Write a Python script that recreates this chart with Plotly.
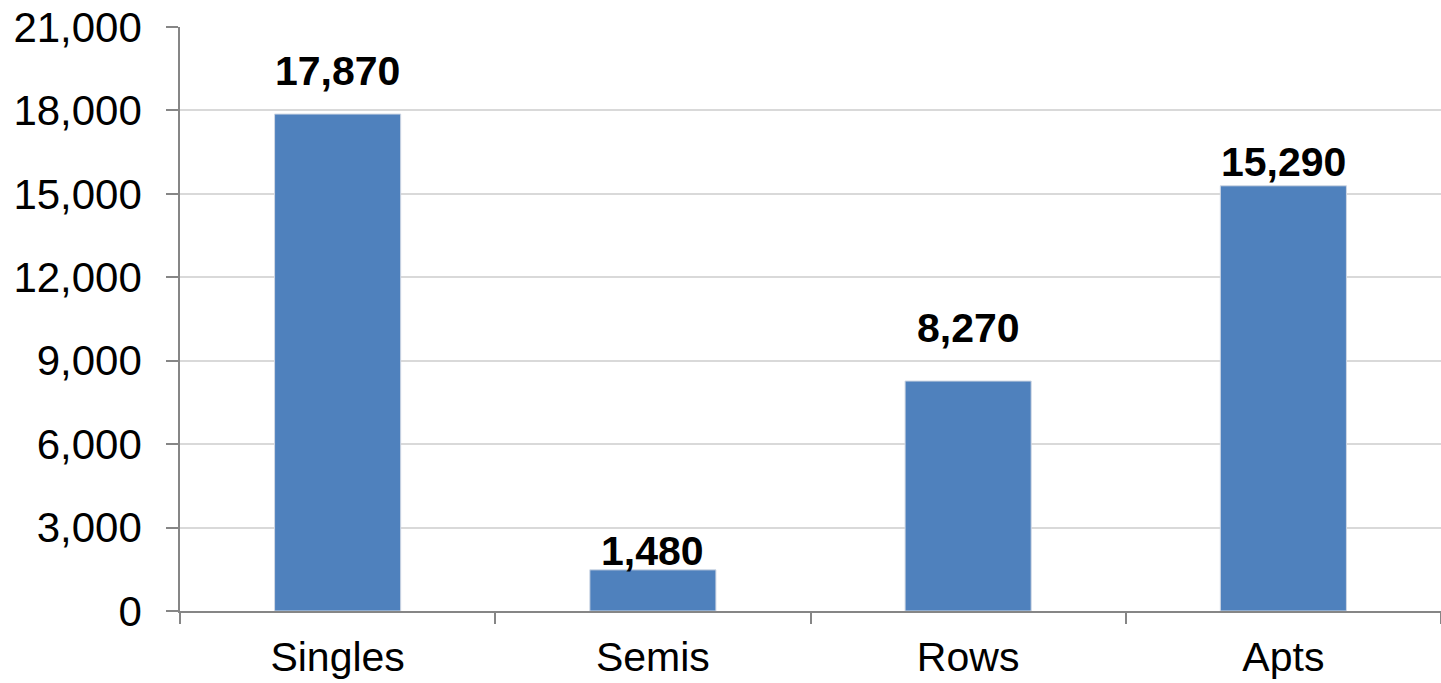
import plotly.graph_objects as go

categories = ["Singles", "Semis", "Rows", "Apts"]
values = [17870, 1480, 8270, 15290]
label_texts = ["17,870", "1,480", "8,270", "15,290"]
label_shifts = [43, 19, 53, 24]  # pixel gap of label centre above bar top
y_ticks = [0, 3000, 6000, 9000, 12000, 15000, 18000, 21000]

fig = go.Figure()
fig.add_trace(go.Bar(
    x=categories, y=values, width=0.4,
    marker=dict(color="#4F81BD", line=dict(color="#d0d8e4", width=1)),
))
for c, v, t, s in zip(categories, values, label_texts, label_shifts):
    fig.add_annotation(x=c, y=v, text=f"<b>{t}</b>", showarrow=False,
                       yshift=s, font=dict(family="Liberation Sans, Arial", size=41, color="#000000"))

fig.update_layout(
    width=1441, height=683,
    margin=dict(l=180, r=0, t=27, b=72),
    plot_bgcolor="#ffffff", paper_bgcolor="#ffffff",
    showlegend=False,
    font=dict(family="Liberation Sans, Arial", size=42, color="#000000"),
)
fig.update_yaxes(
    range=[0, 21000], tickvals=y_ticks, tickformat=",d",
    showgrid=True, gridcolor="#d9d9d9", gridwidth=1.5,
    showline=True, linecolor="#868686", linewidth=1.5,
    ticks="outside", ticklen=12, tickcolor="#868686", tickwidth=1.5,
    ticklabelstandoff=16, zeroline=False, automargin=False,
)
fig.update_xaxes(
    range=[-0.5, 3.5], tickson="boundaries",
    showline=True, linecolor="#868686", linewidth=1.5,
    ticks="outside", ticklen=11, tickcolor="#868686", tickwidth=1.5,
    ticklabelstandoff=9, automargin=False,
    tickfont=dict(size=41),
)
fig.write_html("out.html")
